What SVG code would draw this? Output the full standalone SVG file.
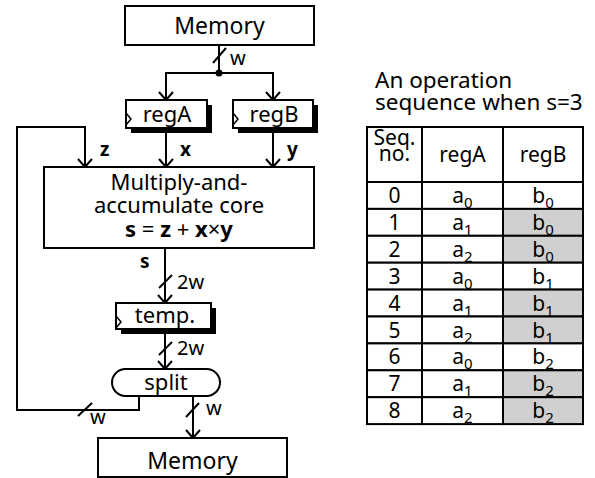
<svg xmlns="http://www.w3.org/2000/svg" width="595" height="478" viewBox="0 0 595 478">
<defs>
<marker id="arr" markerUnits="userSpaceOnUse" markerWidth="10" markerHeight="16" viewBox="0 0 10 16" refX="9" refY="8" orient="auto">
<path d="M1,1 L9,8 L1,15" fill="none" stroke="#000" stroke-width="2"/>
</marker>
<style>
text{font-family:"Noto Sans","Open Sans",sans-serif;fill:#000}
.box{fill:#fff;stroke:#000;stroke-width:2}
.sh{fill:#000}
.ln{fill:none;stroke:#000;stroke-width:2}
.t22{font-size:22px;text-anchor:middle}
.t20{font-size:20px}
.b{font-weight:bold}
.cell{fill:#fff;stroke:#000;stroke-width:2}
.g{fill:#d0d0d0;stroke:#000;stroke-width:2}
.tc{font-size:21px;text-anchor:middle}
.sub{font-size:15px}
</style>
</defs>

<g id="memory-top">
<rect class="box" x="125" y="6" width="189" height="39"/>
<text class="t22" x="219.5" y="34" style="font-size:23px">Memory</text>
</g>

<g id="regA">
<rect class="sh" x="131" y="105" width="81" height="28"/>
<rect class="box" x="126" y="100" width="81" height="28"/>
<polyline class="ln" points="126,113 131,119 126,125" style="stroke-width:1.5"/>
<text class="t22" x="167" y="122">regA</text>
</g>

<g id="regB">
<rect class="sh" x="238" y="105" width="80" height="28"/>
<rect class="box" x="233" y="100" width="80" height="28"/>
<polyline class="ln" points="233,113 238,119 233,125" style="stroke-width:1.5"/>
<text class="t22" x="274" y="122">regB</text>
</g>

<g id="mac">
<rect class="box" x="44" y="167" width="270" height="81"/>
<text class="t22" x="179" y="190">Multiply-and-</text>
<text class="t22" x="179" y="213">accumulate core</text>
<text class="t22" x="179" y="237"><tspan class="b">s</tspan> = <tspan class="b">z</tspan> + <tspan class="b">x</tspan>×<tspan class="b">y</tspan></text>
</g>

<g id="temp">
<rect class="sh" x="121" y="308" width="95" height="26"/>
<rect class="box" x="116" y="303" width="95" height="26"/>
<polyline class="ln" points="116,316 121,322 116,328" style="stroke-width:1.5"/>
<text class="t22" x="165" y="323">temp.</text>
</g>

<g id="split">
<rect class="box" x="112" y="369" width="108" height="27" rx="13.5"/>
<text class="t22" x="166" y="390">split</text>
</g>

<g id="memory-bottom">
<rect class="box" x="98" y="438" width="189" height="39"/>
<text class="t22" x="192.5" y="469" style="font-size:23px">Memory</text>
</g>

<g id="connectors">
<line class="ln" x1="219" y1="45" x2="219" y2="73"/>
<line class="ln" x1="213" y1="63" x2="226" y2="48"/>
<circle cx="219" cy="73" r="3.5" fill="#000"/>
<polyline class="ln" points="166,100 166,73 273,73 273,100" marker-start="url(#arrS)"/>
<line class="ln" x1="166" y1="73" x2="166" y2="100" marker-end="url(#arr)"/>
<line class="ln" x1="273" y1="73" x2="273" y2="100" marker-end="url(#arr)"/>
<line class="ln" x1="166" y1="128" x2="166" y2="167" marker-end="url(#arr)"/>
<line class="ln" x1="273" y1="128" x2="273" y2="167" marker-end="url(#arr)"/>
<polyline class="ln" points="139,396 139,410 17,410 17,127 85,127 85,167" marker-end="url(#arr)"/>
<line class="ln" x1="78" y1="416" x2="92" y2="403"/>
<line class="ln" x1="165" y1="248" x2="165" y2="303" marker-end="url(#arr)"/>
<line class="ln" x1="159" y1="288" x2="172" y2="275"/>
<line class="ln" x1="165" y1="329" x2="165" y2="369" marker-end="url(#arr)"/>
<line class="ln" x1="159" y1="355" x2="172" y2="342"/>
<line class="ln" x1="193" y1="396" x2="193" y2="438" marker-end="url(#arr)"/>
<line class="ln" x1="186" y1="417" x2="199" y2="403"/>
<text class="t20" x="230" y="65">w</text>
<text class="t20 b" x="100" y="156" style="font-size:19px">z</text>
<text class="t20 b" x="180" y="156" style="font-size:19px">x</text>
<text class="t20 b" x="287" y="156" style="font-size:19px">y</text>
<text class="t20 b" x="140" y="268" style="font-size:19px">s</text>
<text class="t20" x="177" y="289">2w</text>
<text class="t20" x="177" y="355">2w</text>
<text class="t20" x="90" y="424">w</text>
<text class="t20" x="206" y="415">w</text>
</g>

<g id="table">
<text x="375" y="88" style="font-size:22.5px">An operation</text>
<text x="375" y="110" style="font-size:22.5px">sequence when s=3</text>
<rect class="cell" x="367" y="127" width="216" height="55"/>
<line class="ln" x1="422" y1="127" x2="422" y2="182"/>
<line class="ln" x1="503" y1="127" x2="503" y2="182"/>
<text class="tc" x="394.5" y="145">Seq.</text>
<text class="tc" x="394.5" y="161">no.</text>
<text class="tc" x="462.5" y="162">regA</text>
<text class="tc" x="543" y="162">regB</text>

<rect class="cell" x="367" y="182" width="55" height="26.9"/><rect class="cell" x="422" y="182" width="81" height="26.9"/><rect class="cell" x="503" y="182" width="80" height="26.9"/>
<rect class="cell" x="367" y="208.9" width="55" height="26.9"/><rect class="cell" x="422" y="208.9" width="81" height="26.9"/><rect class="g" x="503" y="208.9" width="80" height="26.9"/>
<rect class="cell" x="367" y="235.8" width="55" height="26.9"/><rect class="cell" x="422" y="235.8" width="81" height="26.9"/><rect class="g" x="503" y="235.8" width="80" height="26.9"/>
<rect class="cell" x="367" y="262.7" width="55" height="26.9"/><rect class="cell" x="422" y="262.7" width="81" height="26.9"/><rect class="cell" x="503" y="262.7" width="80" height="26.9"/>
<rect class="cell" x="367" y="289.6" width="55" height="26.9"/><rect class="cell" x="422" y="289.6" width="81" height="26.9"/><rect class="g" x="503" y="289.6" width="80" height="26.9"/>
<rect class="cell" x="367" y="316.5" width="55" height="26.9"/><rect class="cell" x="422" y="316.5" width="81" height="26.9"/><rect class="g" x="503" y="316.5" width="80" height="26.9"/>
<rect class="cell" x="367" y="343.4" width="55" height="26.9"/><rect class="cell" x="422" y="343.4" width="81" height="26.9"/><rect class="cell" x="503" y="343.4" width="80" height="26.9"/>
<rect class="cell" x="367" y="370.3" width="55" height="26.9"/><rect class="cell" x="422" y="370.3" width="81" height="26.9"/><rect class="g" x="503" y="370.3" width="80" height="26.9"/>
<rect class="cell" x="367" y="397.2" width="55" height="26.9"/><rect class="cell" x="422" y="397.2" width="81" height="26.9"/><rect class="g" x="503" y="397.2" width="80" height="26.9"/>

<text class="tc" x="394.5" y="203">0</text><text class="tc" x="462.5" y="203">a<tspan class="sub" dy="5">0</tspan></text><text class="tc" x="543" y="203">b<tspan class="sub" dy="5">0</tspan></text>
<text class="tc" x="394.5" y="229.9">1</text><text class="tc" x="462.5" y="229.9">a<tspan class="sub" dy="5">1</tspan></text><text class="tc" x="543" y="229.9">b<tspan class="sub" dy="5">0</tspan></text>
<text class="tc" x="394.5" y="256.8">2</text><text class="tc" x="462.5" y="256.8">a<tspan class="sub" dy="5">2</tspan></text><text class="tc" x="543" y="256.8">b<tspan class="sub" dy="5">0</tspan></text>
<text class="tc" x="394.5" y="283.7">3</text><text class="tc" x="462.5" y="283.7">a<tspan class="sub" dy="5">0</tspan></text><text class="tc" x="543" y="283.7">b<tspan class="sub" dy="5">1</tspan></text>
<text class="tc" x="394.5" y="310.6">4</text><text class="tc" x="462.5" y="310.6">a<tspan class="sub" dy="5">1</tspan></text><text class="tc" x="543" y="310.6">b<tspan class="sub" dy="5">1</tspan></text>
<text class="tc" x="394.5" y="337.5">5</text><text class="tc" x="462.5" y="337.5">a<tspan class="sub" dy="5">2</tspan></text><text class="tc" x="543" y="337.5">b<tspan class="sub" dy="5">1</tspan></text>
<text class="tc" x="394.5" y="364.4">6</text><text class="tc" x="462.5" y="364.4">a<tspan class="sub" dy="5">0</tspan></text><text class="tc" x="543" y="364.4">b<tspan class="sub" dy="5">2</tspan></text>
<text class="tc" x="394.5" y="391.3">7</text><text class="tc" x="462.5" y="391.3">a<tspan class="sub" dy="5">1</tspan></text><text class="tc" x="543" y="391.3">b<tspan class="sub" dy="5">2</tspan></text>
<text class="tc" x="394.5" y="418.2">8</text><text class="tc" x="462.5" y="418.2">a<tspan class="sub" dy="5">2</tspan></text><text class="tc" x="543" y="418.2">b<tspan class="sub" dy="5">2</tspan></text>
</g>
</svg>
